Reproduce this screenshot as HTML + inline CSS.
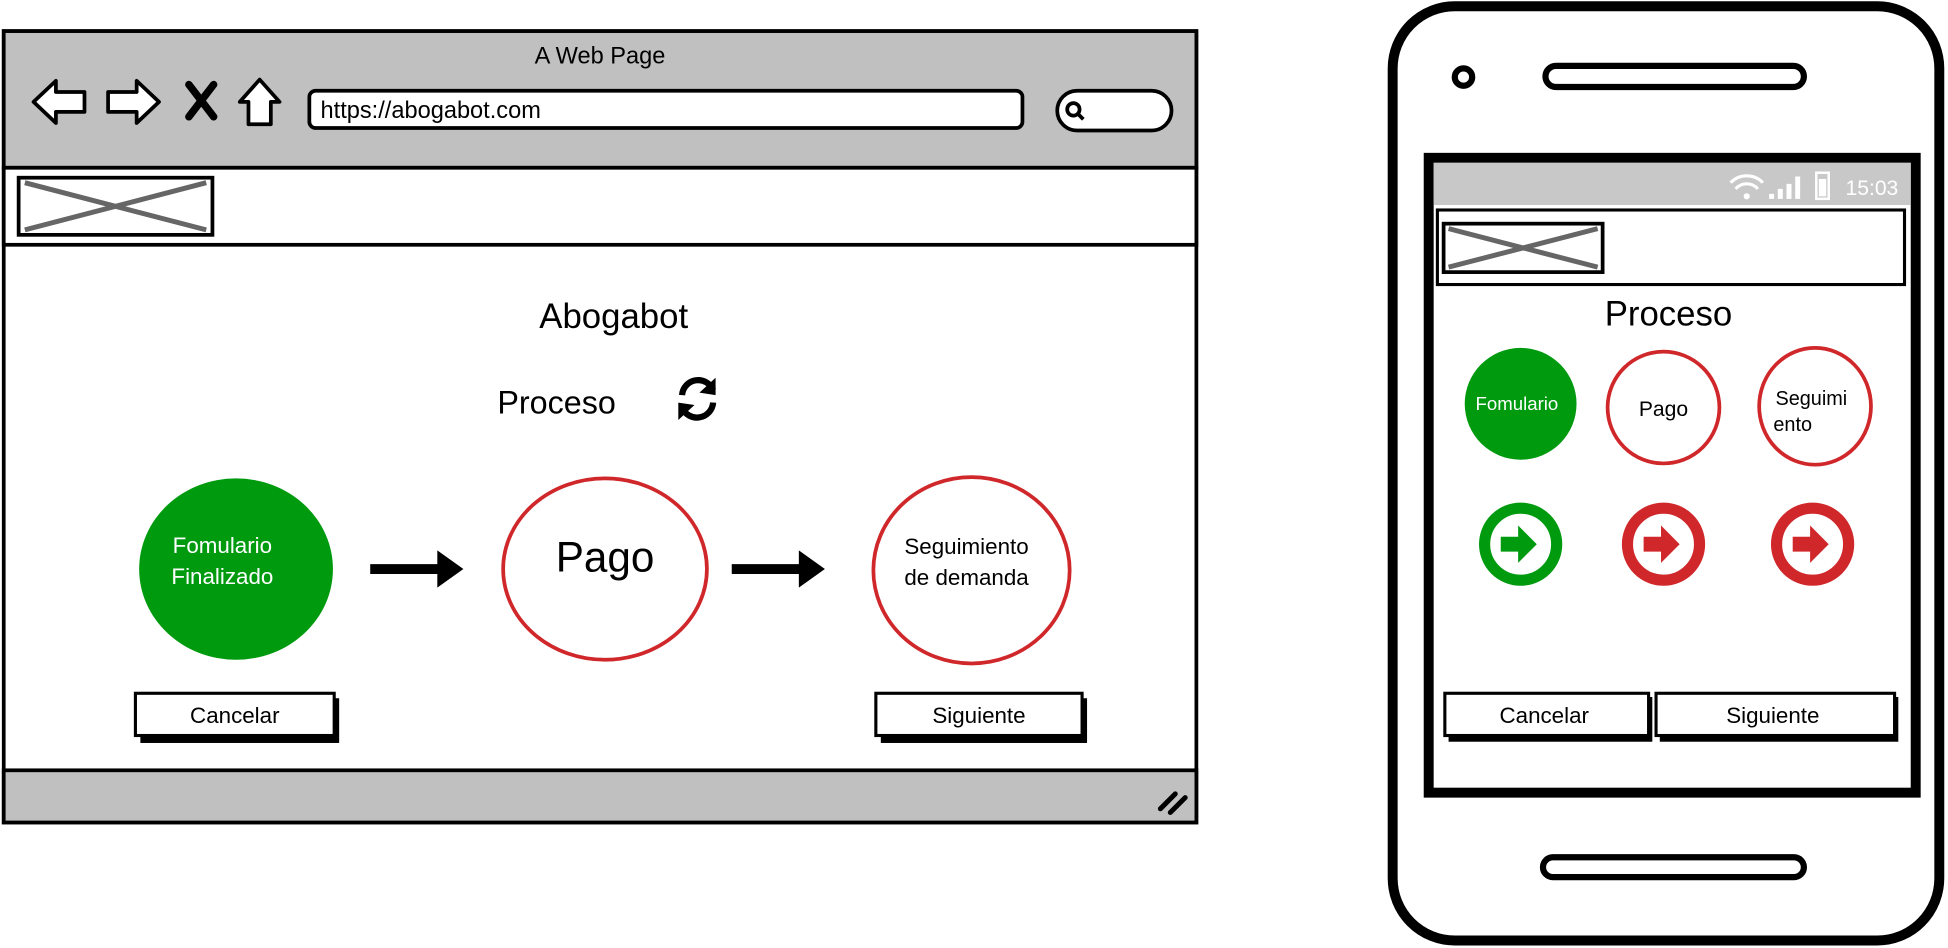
<!DOCTYPE html>
<html><head><meta charset="utf-8"><style>
html,body{margin:0;padding:0;background:#fff;}
svg{display:block;}
text{font-family:"Liberation Sans",sans-serif;}
</style></head><body>
<svg width="1948" height="948" viewBox="0 0 1568 763" xmlns="http://www.w3.org/2000/svg">
<!-- Browser -->
<rect x="3" y="25" width="960" height="637" fill="#fff" stroke="#000" stroke-width="3"/>
<rect x="3" y="25" width="960" height="110" fill="#c0c0c0" stroke="#000" stroke-width="3"/>
<text x="483" y="51" font-size="19" text-anchor="middle">A Web Page</text>
<!-- nav icons -->
<path d="M27 82 L45 65 L45 74 L68 74 L68 90 L45 90 L45 99 Z" fill="#fff" stroke="#000" stroke-width="3" stroke-linejoin="round"/>
<path d="M128 82 L110 65 L110 74 L87 74 L87 90 L110 90 L110 99 Z" fill="#fff" stroke="#000" stroke-width="3" stroke-linejoin="round"/>
<path d="M152 68 L172 94 M172 68 L152 94" stroke="#000" stroke-width="6" stroke-linecap="round"/>
<path d="M193 82 L209 64 L225 82 L218 82 L218 100 L200 100 L200 82 Z" fill="#fff" stroke="#000" stroke-width="3" stroke-linejoin="round"/>
<rect x="249" y="73" width="574" height="30" rx="5" fill="#fff" stroke="#000" stroke-width="3"/>
<text x="258" y="95" font-size="19">https://abogabot.com</text>
<rect x="851" y="73" width="92" height="32" rx="16" fill="#fff" stroke="#000" stroke-width="3"/>
<circle cx="864" cy="88" r="5" fill="none" stroke="#000" stroke-width="3"/>
<path d="M868 92 L872 96" stroke="#000" stroke-width="3"/>
<rect x="3" y="135" width="960" height="62" fill="#fff" stroke="#000" stroke-width="3"/>
<rect x="15" y="143" width="156" height="46" fill="#fff" stroke="#000" stroke-width="3"/>
<path d="M20 147 L166 185 M20 185 L166 147" stroke="#666" stroke-width="4"/>
<rect x="3" y="620" width="960" height="42" fill="#c0c0c0" stroke="#000" stroke-width="3"/>
<path d="M934 651 L946 639 M942 654 L954 642" stroke="#000" stroke-width="4" stroke-linecap="round"/>
<text x="494" y="264" font-size="28" text-anchor="middle">Abogabot</text>
<text x="448" y="333" font-size="26" text-anchor="middle">Proceso</text>
<!-- refresh -->
<path d="M549 318 A13 13 0 0 1 574 314" fill="none" stroke="#000" stroke-width="5"/>
<path d="M576 304 L576 318 L563 316 Z" fill="#000"/>
<path d="M574 324 A13 13 0 0 1 549 328" fill="none" stroke="#000" stroke-width="5"/>
<path d="M546 338 L546 324 L559 326 Z" fill="#000"/>
<!-- circles -->
<ellipse cx="190" cy="458" rx="78" ry="73" fill="#009a0f"/>
<text x="179" y="445" font-size="18" fill="#fff" text-anchor="middle">Fomulario</text>
<text x="179" y="470" font-size="18" fill="#fff" text-anchor="middle">Finalizado</text>
<path d="M298 458 L355 458" stroke="#000" stroke-width="8"/><path d="M352 443 L373 458 L352 473 Z" fill="#000"/>
<ellipse cx="487" cy="458" rx="82" ry="73" fill="#fff" stroke="#d0272a" stroke-width="3"/>
<text x="487" y="460" font-size="34" text-anchor="middle">Pago</text>
<path d="M589 458 L646 458" stroke="#000" stroke-width="8"/><path d="M643 443 L664 458 L643 473 Z" fill="#000"/>
<ellipse cx="782" cy="459" rx="79" ry="75" fill="#fff" stroke="#d0272a" stroke-width="3"/>
<text x="778" y="446" font-size="18" text-anchor="middle">Seguimiento</text>
<text x="778" y="471" font-size="18" text-anchor="middle">de demanda</text>
<!-- buttons -->
<rect x="113" y="562" width="160" height="36" fill="#000"/>
<rect x="109" y="558" width="160" height="34" fill="#fff" stroke="#000" stroke-width="2.5"/>
<text x="189" y="582" font-size="18" text-anchor="middle">Cancelar</text>
<rect x="709" y="562" width="166" height="36" fill="#000"/>
<rect x="705" y="558" width="166" height="34" fill="#fff" stroke="#000" stroke-width="2.5"/>
<text x="788" y="582" font-size="18" text-anchor="middle">Siguiente</text>

<!-- Phone -->
<rect x="1121" y="5" width="440" height="752" rx="50" fill="#fff" stroke="#000" stroke-width="8"/>
<circle cx="1178" cy="62" r="7" fill="#fff" stroke="#000" stroke-width="5"/>
<rect x="1244" y="53" width="208" height="17" rx="8.5" fill="#fff" stroke="#000" stroke-width="5"/>
<rect x="1242" y="690" width="210" height="16" rx="8" fill="#fff" stroke="#000" stroke-width="5"/>
<rect x="1150" y="127" width="392" height="511" fill="#fff" stroke="#000" stroke-width="8"/>
<rect x="1154" y="131" width="384" height="34" fill="#c8c8c8"/>
<text x="1528" y="157" font-size="17" fill="#fff" text-anchor="end">15:03</text>
<rect x="1462" y="139" width="10" height="21" fill="none" stroke="#fff" stroke-width="2"/>
<rect x="1464" y="144" width="6" height="14" fill="#fff"/>
<path d="M1424 160 h4 v-4 h-4z M1431 160 h4 v-8 h-4z M1438 160 h4 v-12 h-4z M1445 160 h4 v-18 h-4z" fill="#fff"/>
<path d="M1393 147 a18 18 0 0 1 26 0 M1397 152 a12 12 0 0 1 18 0" fill="none" stroke="#fff" stroke-width="2.5"/>
<circle cx="1406" cy="158" r="2.5" fill="#fff"/>
<rect x="1157" y="169" width="376" height="60" fill="#fff" stroke="#000" stroke-width="2.5"/>
<rect x="1162" y="180" width="128" height="39" fill="#fff" stroke="#000" stroke-width="3"/>
<path d="M1166 184 L1286 215 M1166 215 L1286 184" stroke="#666" stroke-width="4"/>
<text x="1343" y="262" font-size="28" text-anchor="middle">Proceso</text>
<circle cx="1224" cy="325" r="45" fill="#009a0f"/>
<text x="1221" y="330" font-size="15" fill="#fff" text-anchor="middle">Fomulario</text>
<circle cx="1339" cy="328" r="45" fill="#fff" stroke="#d0272a" stroke-width="3"/>
<text x="1339" y="335" font-size="17" text-anchor="middle">Pago</text>
<ellipse cx="1461" cy="327" rx="45" ry="47" fill="#fff" stroke="#d0272a" stroke-width="3"/>
<text x="1458" y="326" font-size="16" text-anchor="middle">Seguimi</text>
<text x="1443" y="347" font-size="16" text-anchor="middle">ento</text>
<!-- arrow circles -->
<g>
<circle cx="1224" cy="438" r="29" fill="#fff" stroke="#009a0f" stroke-width="9"/>
<path d="M1208 432 h14 v-9 l15 15 l-15 15 v-9 h-14z" fill="#009a0f"/>
<circle cx="1339" cy="438" r="29" fill="#fff" stroke="#d0272a" stroke-width="9"/>
<path d="M1323 432 h14 v-9 l15 15 l-15 15 v-9 h-14z" fill="#d0272a"/>
<circle cx="1459" cy="438" r="29" fill="#fff" stroke="#d0272a" stroke-width="9"/>
<path d="M1443 432 h14 v-9 l15 15 l-15 15 v-9 h-14z" fill="#d0272a"/>
</g>
<rect x="1166" y="561" width="164" height="36" fill="#000"/>
<rect x="1163" y="558" width="164" height="34" fill="#fff" stroke="#000" stroke-width="2.5"/>
<text x="1243" y="582" font-size="18" text-anchor="middle">Cancelar</text>
<rect x="1336" y="561" width="192" height="36" fill="#000"/>
<rect x="1333" y="558" width="192" height="34" fill="#fff" stroke="#000" stroke-width="2.5"/>
<text x="1427" y="582" font-size="18" text-anchor="middle">Siguiente</text>
</svg>
</body></html>
